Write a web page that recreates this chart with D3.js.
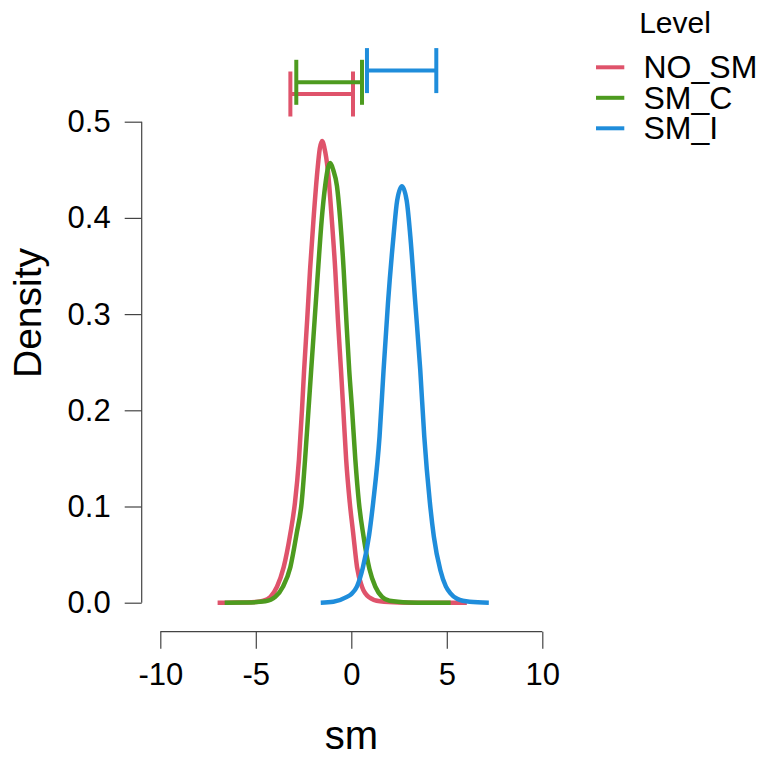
<!DOCTYPE html>
<html>
<head>
<meta charset="utf-8">
<script src="https://cdn.jsdelivr.net/npm/d3@7"></script>
<style>
  html, body { margin: 0; padding: 0; background: #fff; }
  svg { display: block; font-family: "Liberation Sans", Arial, Helvetica, sans-serif; }
</style>
</head>
<body>
<svg id="chart" width="763" height="759"></svg>
<script>
// ---------------- data ----------------
const levels = ["NO_SM", "SM_C", "SM_I"];
const colors = ["#DF536B", "#4D9B1F", "#1F8DDB"];

// density curve of NO_SM
const noSmX = [-7.0, -6.0, -5.0, -4.6, -4.24, -3.89, -3.54, -3.19, -2.95, -2.74, -2.58, -2.47, -2.31, -2.16, -1.98, -1.77, -1.65, -1.53, -1.41, -1.23, -1.02, -0.84, -0.70, -0.54, -0.42, -0.27, -0.08, 0.10, 0.30, 0.56, 0.91, 1.5, 2.5, 4.0, 6.05];
const noSmD = [0, 0.0001, 0.0008, 0.002, 0.006, 0.0166, 0.037, 0.072, 0.104, 0.149, 0.201, 0.242, 0.294, 0.346, 0.398, 0.450, 0.472, 0.480, 0.473, 0.450, 0.398, 0.346, 0.294, 0.242, 0.201, 0.149, 0.104, 0.072, 0.037, 0.0166, 0.006, 0.0015, 0.0003, 0, 0];

// density curve of SM_C
const smCX = [-6.63, -5.5, -4.5, -3.98, -3.58, -3.19, -2.86, -2.60, -2.42, -2.24, -2.10, -1.92, -1.74, -1.55, -1.37, -1.22, -1.10, -0.95, -0.75, -0.58, -0.40, -0.26, -0.11, 0.04, 0.21, 0.40, 0.64, 0.95, 1.26, 1.61, 2.0, 3.0, 4.0, 5.2];
const smCD = [0, 0.0002, 0.0015, 0.006, 0.0166, 0.037, 0.072, 0.104, 0.149, 0.201, 0.242, 0.294, 0.346, 0.398, 0.433, 0.452, 0.457, 0.450, 0.433, 0.398, 0.346, 0.294, 0.242, 0.201, 0.149, 0.104, 0.069, 0.035, 0.0166, 0.006, 0.002, 0.0003, 0, 0];

// density curve of SM_I
const smIX = [-1.6, -0.94, -0.23, 0.0, 0.30, 0.60, 0.93, 1.15, 1.48, 1.69, 1.92, 2.21, 2.40, 2.65, 2.90, 3.09, 3.35, 3.61, 3.82, 4.11, 4.32, 4.66, 4.95, 5.18, 5.55, 6.2, 7.2];
const smID = [0, 0.001, 0.006, 0.009, 0.017, 0.036, 0.070, 0.105, 0.173, 0.242, 0.3115, 0.381, 0.418, 0.433, 0.418, 0.381, 0.3115, 0.242, 0.173, 0.105, 0.069, 0.034, 0.017, 0.010, 0.004, 0.001, 0];

// interval bars drawn above the plot
const ciLow  = [-3.19, -2.88, 0.82];
const ciHigh = [0.09, 0.56, 4.45];

const xTicks = [-10, -5, 0, 5, 10];
const yTicks = [0.0, 0.1, 0.2, 0.3, 0.4, 0.5];

// ---------------- drawing ----------------
const svg = d3.select("#chart");
const x = d3.scaleLinear().domain([-10, 10]).range([160.3, 542.3]);
const y = d3.scaleLinear().domain([0, 0.5]).range([602.7, 121.7]);

const curves = [
  { xs: noSmX, ds: noSmD },
  { xs: smCX, ds: smCD },
  { xs: smIX, ds: smID }
];

const line = d3.line()
  .x(d => x(d[0]))
  .y(d => y(d[1]))
  .curve(d3.curveMonotoneX);

curves.forEach((c, i) => {
  const pts = c.xs.map((v, j) => [v, c.ds[j]]);
  svg.append("path")
    .attr("d", line(pts))
    .attr("fill", "none")
    .attr("stroke", colors[i])
    .attr("stroke-width", 4.5)
    .attr("stroke-linejoin", "round")
    .attr("stroke-linecap", "butt");
});

// y axis (R style)
const yAxisX = 141.7;
const yAx = svg.append("g").attr("transform", `translate(${yAxisX},0)`)
  .call(d3.axisLeft(y).tickValues(yTicks).tickFormat(d3.format(".1f")).tickSize(17).tickPadding(14));
yAx.select(".domain").attr("d", `M-0,${y(0)}V${y(0.5)}`);
yAx.selectAll("path, line").attr("stroke", "#444").attr("stroke-width", 1.2);
yAx.selectAll("text").attr("font-size", 31).attr("fill", "#000")
  .attr("font-family", "'Liberation Sans', Arial, sans-serif");

// x axis (R style)
const xAxisY = 631.7;
const xAx = svg.append("g").attr("transform", `translate(0,${xAxisY})`)
  .call(d3.axisBottom(x).tickValues(xTicks).tickFormat(d3.format("d")).tickSize(17).tickPadding(14));
xAx.select(".domain").attr("d", `M${x(-10)},0H${x(10)}`);
xAx.selectAll("path, line").attr("stroke", "#444").attr("stroke-width", 1.2);
xAx.selectAll("text").attr("font-size", 31).attr("fill", "#000")
  .attr("font-family", "'Liberation Sans', Arial, sans-serif")
  .text(d => (d < 0 ? "-" + Math.abs(d) : d));

// axis titles
svg.append("text")
  .attr("x", x(0)).attr("y", 749.3)
  .attr("text-anchor", "middle")
  .attr("font-size", 40)
  .text("sm");
svg.append("text")
  .attr("transform", `translate(41,313) rotate(-90)`)
  .attr("text-anchor", "middle")
  .attr("font-size", 39)
  .text("Density");

// interval bars
const barRow0 = 94, barStep = 11.7, capHalf = 22.5;
levels.forEach((lv, i) => {
  const cy = barRow0 - i * barStep;
  const g = svg.append("g")
    .attr("stroke", colors[i])
    .attr("stroke-width", 4);
  g.append("line").attr("x1", x(ciLow[i])).attr("x2", x(ciHigh[i])).attr("y1", cy).attr("y2", cy);
  g.append("line").attr("x1", x(ciLow[i])).attr("x2", x(ciLow[i])).attr("y1", cy - capHalf).attr("y2", cy + capHalf);
  g.append("line").attr("x1", x(ciHigh[i])).attr("x2", x(ciHigh[i])).attr("y1", cy - capHalf).attr("y2", cy + capHalf);
});

// legend
svg.append("text")
  .attr("x", 675).attr("y", 33)
  .attr("text-anchor", "middle")
  .attr("font-size", 30)
  .text("Level");
const legRow0 = 78.3, legStep = 30.5;
levels.forEach((lv, i) => {
  const by = legRow0 + i * legStep;
  svg.append("line")
    .attr("x1", 596).attr("x2", 624.3)
    .attr("y1", by - 11).attr("y2", by - 11)
    .attr("stroke", colors[i]).attr("stroke-width", 4);
  svg.append("text")
    .attr("x", 643.5).attr("y", by)
    .attr("font-size", 32)
    .text(lv);
});
</script>
</body>
</html>
